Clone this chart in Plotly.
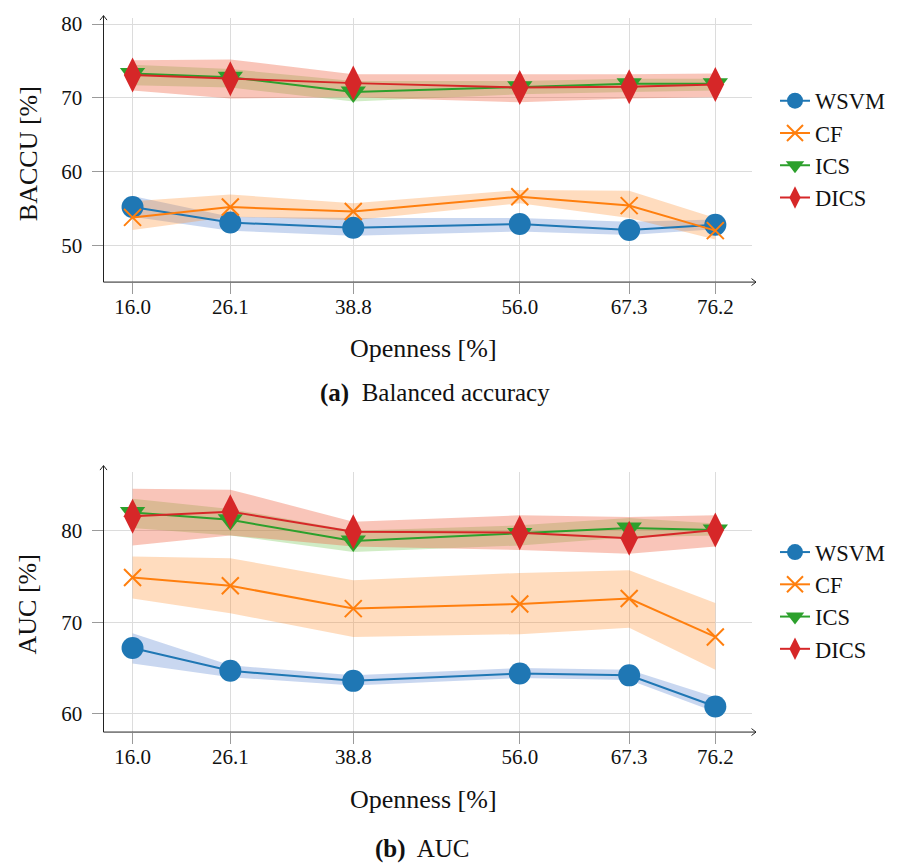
import plotly.graph_objects as go

W, H = 920, 864

openness = [16.0, 26.1, 38.8, 56.0, 67.3, 76.2]
tick_text = ["16.0", "26.1", "38.8", "56.0", "67.3", "76.2"]
methods = ["WSVM", "CF", "ICS", "DICS"]

# (a) Balanced accuracy
baccu_wsvm = [55.2, 53.1, 52.4, 52.9, 52.1, 52.8]
baccu_wsvm_lo = [53.9, 52.0, 51.3, 51.9, 51.4, 52.2]
baccu_wsvm_hi = [56.7, 53.9, 53.7, 53.7, 53.2, 53.5]
baccu_cf = [53.8, 55.2, 54.6, 56.6, 55.4, 52.0]
baccu_cf_lo = [52.1, 53.9, 53.4, 55.7, 53.7, 50.8]
baccu_cf_hi = [56.0, 56.9, 55.7, 57.5, 57.4, 53.7]
baccu_ics = [73.3, 72.8, 70.8, 71.5, 71.9, 71.9]
baccu_ics_lo = [71.7, 71.4, 69.5, 70.5, 70.8, 71.0]
baccu_ics_hi = [74.5, 73.9, 72.3, 72.3, 72.6, 72.6]
baccu_dics = [73.1, 72.6, 72.0, 71.4, 71.5, 71.8]
baccu_dics_lo = [71.0, 69.9, 70.1, 69.4, 69.9, 70.1]
baccu_dics_hi = [75.1, 75.2, 73.2, 73.2, 73.2, 73.3]

# (b) AUC
auc_wsvm = [67.2, 64.7, 63.6, 64.4, 64.2, 60.8]
auc_wsvm_lo = [65.5, 64.0, 63.1, 63.9, 63.7, 60.2]
auc_wsvm_hi = [68.8, 65.3, 64.2, 65.0, 64.8, 61.8]
auc_cf = [74.9, 74.0, 71.5, 72.0, 72.6, 68.4]
auc_cf_lo = [72.6, 71.0, 68.4, 68.7, 69.4, 64.8]
auc_cf_hi = [77.2, 77.0, 74.6, 75.4, 75.7, 72.1]
auc_ics = [82.0, 81.2, 78.9, 79.7, 80.3, 80.1]
auc_ics_lo = [80.3, 79.5, 77.7, 78.4, 79.3, 79.5]
auc_ics_hi = [83.5, 82.4, 80.0, 80.6, 81.4, 80.8]
auc_dics = [81.6, 82.1, 79.9, 79.8, 79.2, 80.1]
auc_dics_lo = [78.4, 79.5, 78.3, 77.9, 77.5, 78.3]
auc_dics_hi = [84.6, 84.5, 81.0, 81.7, 81.5, 81.7]

line_colors = ["#1f77b4", "#ff7f0e", "#2ca02c", "#d62728"]
band_colors = ["rgba(60,110,200,0.28)", "rgba(255,140,40,0.30)",
               "rgba(120,200,90,0.35)", "rgba(238,95,60,0.36)"]
symbols = ["circle", "x-thin-open", "triangle-down", "diamond-tall"]
sizes = [22, 17, 22, 25]

FONT = "Liberation Serif, Times New Roman, Times, serif"

fig = go.Figure()

panels = [
    dict(xa="x", ya="y", legend="legend",
         data=[(baccu_wsvm, baccu_wsvm_lo, baccu_wsvm_hi),
               (baccu_cf, baccu_cf_lo, baccu_cf_hi),
               (baccu_ics, baccu_ics_lo, baccu_ics_hi),
               (baccu_dics, baccu_dics_lo, baccu_dics_hi)]),
    dict(xa="x2", ya="y2", legend="legend2",
         data=[(auc_wsvm, auc_wsvm_lo, auc_wsvm_hi),
               (auc_cf, auc_cf_lo, auc_cf_hi),
               (auc_ics, auc_ics_lo, auc_ics_hi),
               (auc_dics, auc_dics_lo, auc_dics_hi)]),
]

for p in panels:
    for i, (m, lo, hi) in enumerate(p["data"]):
        fig.add_trace(go.Scatter(
            x=openness + openness[::-1], y=hi + lo[::-1],
            fill="toself", fillcolor=band_colors[i], mode="none",
            line=dict(width=0), showlegend=False, hoverinfo="skip",
            xaxis=p["xa"], yaxis=p["ya"]))
    for i, (m, lo, hi) in enumerate(p["data"]):
        mk = dict(symbol=symbols[i], size=sizes[i], color=line_colors[i])
        if symbols[i] == "x-thin-open":
            mk["line"] = dict(width=2, color=line_colors[i])
        else:
            mk["line"] = dict(width=0)
        fig.add_trace(go.Scatter(
            x=openness, y=m, mode="lines+markers", name=methods[i],
            line=dict(color=line_colors[i], width=2), marker=mk,
            xaxis=p["xa"], yaxis=p["ya"], legend=p["legend"],
            legendgroup=p["legend"] + methods[i]))

# geometry (pixels)
X0, X1 = 103.5, 752.0
XPU = 9.681
XMIN = 13.0
XMAX = XMIN + (X1 - X0) / XPU

top = dict(y0=278.7, y1=13.0, vmin=45.03, ppu=7.42, tip=10.7)
bot = dict(y0=731.3, y1=470.0, vmin=58.0, ppu=9.2, tip=463.3)


def py(v):
    return 1 - v / H


def pxx(v):
    return v / W


common_x = dict(range=[XMIN, XMAX], domain=[pxx(X0), pxx(X1)],
                tickvals=openness, ticktext=tick_text,
                showgrid=True, gridcolor="#dcdcdc", gridwidth=1,
                zeroline=False, showline=False,
                ticks="outside", ticklen=11, tickcolor="#9a9a9a", tickwidth=1,
                tickfont=dict(family=FONT, size=21, color="#111"),
                ticklabelstandoff=-5)
common_y = dict(showgrid=True, gridcolor="#dcdcdc", gridwidth=1,
                zeroline=False, showline=False,
                ticks="outside", ticklen=11, tickcolor="#9a9a9a", tickwidth=1,
                tickfont=dict(family=FONT, size=21, color="#111"),
                ticklabelstandoff=5)

fig.update_layout(
    xaxis=dict(anchor="y", **common_x),
    yaxis=dict(anchor="x", domain=[py(top["y0"]), py(top["y1"])],
               range=[top["vmin"], top["vmin"] + (top["y0"] - top["y1"]) / top["ppu"]],
               tickvals=[50, 60, 70, 80], **common_y),
    xaxis2=dict(anchor="y2", **common_x),
    yaxis2=dict(anchor="x2", domain=[py(bot["y0"]), py(bot["y1"])],
                range=[bot["vmin"], bot["vmin"] + (bot["y0"] - bot["y1"]) / bot["ppu"]],
                tickvals=[60, 70, 80], **common_y),
)

legend_common = dict(xanchor="left", yanchor="top", bgcolor="rgba(0,0,0,0)",
                     font=dict(family=FONT, size=22.5, color="#111"),
                     tracegroupgap=0, itemsizing="trace")
fig.update_layout(
    legend=dict(x=pxx(775), y=py(75), **legend_common),
    legend2=dict(x=pxx(775), y=py(529), **legend_common),
)

shapes = []
ann = []
for g in (top, bot):
    yb = py(g["y0"])
    xe = 756.0
    shapes.append(dict(type="line", xref="paper", yref="paper",
                       x0=pxx(X0), x1=pxx(xe), y0=yb, y1=yb,
                       line=dict(color="#222", width=1)))
    shapes.append(dict(type="path", xref="paper", yref="paper",
                       path=f"M {pxx(xe-4.5)},{py(g['y0']-3.5)} L {pxx(xe)},{yb} L {pxx(xe-4.5)},{py(g['y0']+3.5)}",
                       line=dict(color="#222", width=1)))
    shapes.append(dict(type="line", xref="paper", yref="paper",
                       x0=pxx(X0), x1=pxx(X0), y0=yb, y1=py(g["tip"]),
                       line=dict(color="#222", width=1)))
    shapes.append(dict(type="path", xref="paper", yref="paper",
                       path=f"M {pxx(X0-3.5)},{py(g['tip']+4.5)} L {pxx(X0)},{py(g['tip'])} L {pxx(X0+3.5)},{py(g['tip']+4.5)}",
                       line=dict(color="#222", width=1)))

title_font = dict(family=FONT, size=26, color="#111")
ann.append(dict(text="Openness [%]", x=pxx(423), y=py(345), xref="paper", yref="paper",
                showarrow=False, font=title_font, xanchor="center", yanchor="middle"))
ann.append(dict(text="Openness [%]", x=pxx(423), y=py(799), xref="paper", yref="paper",
                showarrow=False, font=title_font, xanchor="center", yanchor="middle"))
ann.append(dict(text="BACCU [%]", x=pxx(28), y=py(150), xref="paper", yref="paper",
                showarrow=False, font=title_font, textangle=-90,
                xanchor="center", yanchor="middle"))
ann.append(dict(text="AUC [%]", x=pxx(28), y=py(603), xref="paper", yref="paper",
                showarrow=False, font=title_font, textangle=-90,
                xanchor="center", yanchor="middle"))
cap_font = dict(family=FONT, size=25, color="#111")
ann.append(dict(text="<b>(a)</b>  Balanced accuracy", x=pxx(435), y=py(390),
                xref="paper", yref="paper", showarrow=False, font=cap_font,
                xanchor="center", yanchor="middle"))
ann.append(dict(text="<b>(b)</b>  AUC", x=pxx(422), y=py(849),
                xref="paper", yref="paper", showarrow=False, font=cap_font,
                xanchor="center", yanchor="middle"))

fig.update_layout(
    width=W, height=H, margin=dict(l=0, r=0, t=0, b=0),
    paper_bgcolor="white", plot_bgcolor="white",
    shapes=shapes, annotations=ann, showlegend=True,
    font=dict(family=FONT),
)

fig.write_html("out.html")
